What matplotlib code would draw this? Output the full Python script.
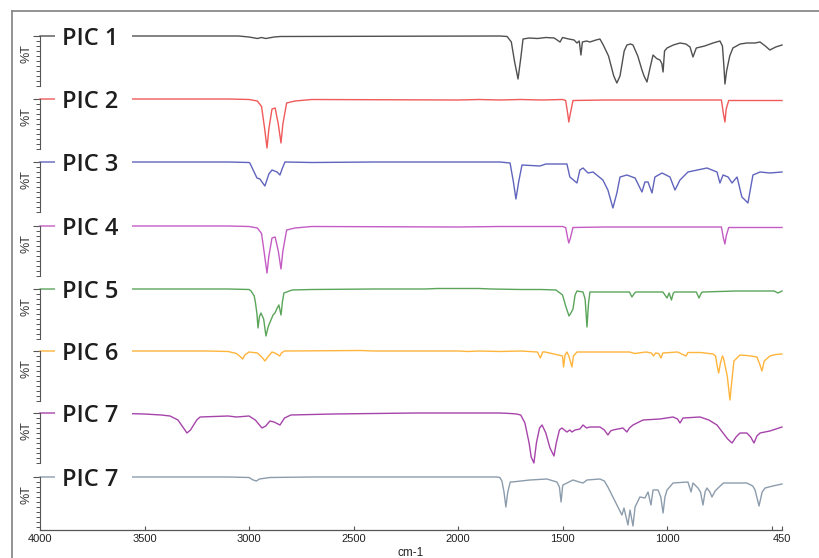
import matplotlib
matplotlib.use('Agg')
import matplotlib.pyplot as plt
from matplotlib.lines import Line2D
from matplotlib.ticker import FixedLocator

# ---------------- data ----------------
labels = ['PIC 1', 'PIC 2', 'PIC 3', 'PIC 4', 'PIC 5', 'PIC 6', 'PIC 7', 'PIC 7']
colors = ['#505050', '#f05a5a', '#6064bc', '#c45cc4', '#5aa55a', '#ffb43c', '#a644aa', '#8c9cac']

pic1_wn = [4000, 3050, 3000, 2960, 2940, 2920, 2880, 2850, 1800, 1765, 1745, 1730, 1713, 1700, 1689,
           1660, 1620, 1580, 1540, 1512, 1500, 1470, 1445, 1431, 1420, 1412, 1405, 1385, 1369, 1340,
           1321, 1305, 1280, 1255, 1240, 1225, 1205, 1192, 1175, 1163, 1140, 1120, 1110, 1096, 1082,
           1067, 1050, 1034, 1025, 1019, 1012, 1000, 970, 938, 910, 890, 876, 860, 820, 780, 747,
           735, 728, 723, 715, 700, 685, 650, 618, 580, 555, 530, 508, 480, 450]
pic1_t = [100, 100, 98, 95, 97, 95, 98, 99, 100, 99, 88, 50, 14, 55, 94,
          96, 95, 97, 96, 88, 97, 94, 92, 86, 90, 62, 88, 90, 88, 92,
          94, 82, 60, 20, 6, 20, 70, 82, 84, 82, 60, 32, 20, 8, 35,
          62, 55, 52, 45, 28, 70, 76, 82, 86, 84, 78, 58, 76, 80, 86, 90,
          80, 40, 4, 30, 60, 76, 84, 86, 86, 88, 80, 72, 78, 82]

pic2_wn = [4000, 3100, 3000, 2960, 2940, 2925, 2914, 2905, 2890, 2875, 2860, 2847, 2838, 2820, 2780,
           2700, 2000, 1900, 1800, 1700, 1600, 1500, 1485, 1475, 1470, 1463, 1450, 1300, 1000, 740,
           730, 723, 717, 705, 450]
pic2_t = [100, 100, 99, 96, 85, 40, 2, 40, 80, 82, 50, 12, 50, 92, 96,
          99, 98, 99, 98, 99, 98, 99, 97, 70, 54, 70, 97, 98, 98, 98,
          70, 54, 80, 97, 97]

pic3_wn = [4000, 3100, 3000, 2996, 2962, 2948, 2924, 2905, 2890, 2866, 2852, 2840, 2828, 2700, 2400,
           1800, 1751, 1735, 1723, 1710, 1694, 1608, 1580, 1479, 1465, 1431, 1417, 1402, 1378, 1354,
           1307, 1283, 1259, 1240, 1225, 1192, 1153, 1120, 1106, 1091, 1072, 1058, 1024, 986, 962,
           938, 900, 809, 761, 747, 732, 708, 689, 665, 642, 627, 613, 589, 555, 508, 450]
pic3_t = [100, 100, 99, 98, 68, 66, 52, 76, 84, 80, 74, 88, 100, 99, 100,
          100, 98, 60, 26, 60, 94, 92, 96, 96, 70, 58, 84, 88, 78, 80,
          64, 44, 8, 38, 70, 74, 68, 40, 60, 60, 38, 70, 78, 70, 44,
          64, 80, 88, 80, 58, 74, 70, 58, 70, 30, 24, 18, 74, 80, 78, 80]

pic4_wn = [4000, 3100, 3000, 2960, 2940, 2925, 2914, 2905, 2890, 2875, 2860, 2847, 2838, 2820, 2780,
           2700, 2000, 1800, 1500, 1485, 1475, 1470, 1463, 1450, 1300, 1000, 740, 730, 723, 717,
           705, 450]
pic4_t = [100, 100, 99, 96, 85, 40, 6, 40, 76, 78, 50, 14, 50, 92, 96,
          99, 98, 99, 99, 97, 75, 66, 75, 97, 98, 98, 98, 75, 64, 80,
          97, 97]

pic5_wn = [4000, 3100, 3000, 2990, 2975, 2969, 2962, 2957, 2950, 2943, 2930, 2919, 2908, 2895, 2885,
           2876, 2865, 2857, 2852, 2847, 2840, 2833, 2794, 2700, 2400, 2157, 2100, 2000, 1900, 1840,
           1700, 1600, 1531, 1500, 1485, 1469, 1460, 1450, 1440, 1431, 1402, 1392, 1383, 1376, 1369,
           1292, 1180, 1168, 1155, 1149, 1020, 1000, 990, 979, 970, 964, 860, 847, 835, 828,
           670, 488, 469, 450]
pic5_t = [100, 100, 99, 96, 86, 72, 50, 22, 45, 52, 40, 6, 25, 38, 48,
          52, 62, 68, 58, 48, 75, 92, 98, 99, 100, 100, 101, 101, 101, 100,
          99, 99, 98, 88, 66, 46, 52, 60, 88, 96, 94, 80, 24, 70, 94,
          94, 94, 84, 92, 94, 94, 82, 92, 78, 92, 94, 94, 82, 93, 94,
          96, 96, 92, 96]

pic6_wn = [4000, 3200, 3100, 3080, 3060, 3040, 3030, 3020, 3000, 2960, 2935, 2924, 2910, 2890, 2876,
           2860, 2853, 2845, 2830, 2466, 2400, 2000, 1950, 1900, 1800, 1700, 1620, 1606, 1595, 1583,
           1500, 1495, 1488, 1479, 1470, 1455, 1448, 1431, 1369, 1180, 1155, 1100, 1075, 1065, 1055,
           1040, 1029, 1020, 950, 909, 900, 840, 780, 768, 760, 753, 745, 735, 730, 712,
           699, 690, 680, 651, 620, 599, 570, 555, 546, 535, 508, 480, 450]
pic6_t = [100, 100, 99, 97, 95, 88, 84, 92, 98, 96, 86, 80, 88, 98, 96,
          92, 90, 96, 100, 101, 100, 100, 99, 100, 99, 100, 98, 86, 98, 98,
          90, 68, 92, 98, 90, 68, 90, 98, 98, 98, 95, 98, 96, 90, 96,
          95, 86, 96, 98, 90, 97, 97, 94, 90, 70, 56, 75, 90, 86, 50,
          2, 40, 80, 92, 91, 90, 88, 72, 60, 80, 90, 93, 94]

pic7_wn = [4000, 3700, 3500, 3420, 3378, 3340, 3310, 3297, 3280, 3250, 3234, 3100, 3060, 3000, 2970,
           2938, 2920, 2900, 2880, 2852, 2830, 2800, 2600, 2200, 2000, 1800, 1750, 1720, 1700, 1680,
           1660, 1650, 1637, 1625, 1610, 1598, 1580, 1560, 1541, 1530, 1515, 1503, 1479, 1465, 1455,
           1440, 1417, 1402, 1385, 1369, 1321, 1300, 1283, 1270, 1259, 1211, 1192, 1180, 1163, 1115,
           1034, 971, 950, 938, 924, 842, 800, 761, 732, 710, 689, 670, 651, 618, 600,
           584, 570, 555, 508, 450]
pic7_t = [100, 100, 98, 96, 94, 86, 68, 60, 66, 86, 92, 94, 92, 94, 86,
          70, 74, 84, 82, 76, 90, 96, 98, 100, 100, 100, 99, 98, 96, 80,
          40, 12, 0, 40, 70, 76, 60, 30, 14, 40, 66, 70, 62, 66, 62,
          66, 68, 76, 70, 72, 72, 66, 56, 64, 66, 70, 62, 70, 76, 86,
          88, 92, 88, 80, 90, 92, 86, 76, 60, 48, 40, 52, 60, 60, 52,
          40, 54, 60, 64, 72]

pic8_wn = [4000, 3100, 3000, 2980, 2965, 2950, 2900, 2700, 2000, 1816, 1800, 1790, 1780, 1771, 1762,
           1750, 1742, 1656, 1575, 1527, 1515, 1507, 1500, 1498, 1450, 1420, 1402, 1383, 1321, 1300,
           1283, 1259, 1235, 1216, 1206, 1187, 1177, 1163, 1153, 1130, 1106, 1091, 1077, 1067, 1043,
           1030, 1019, 1010, 1000, 971, 900, 885, 876, 852, 840, 828, 818, 809, 795, 785,
           770, 756, 730, 699, 618, 590, 579, 560, 545, 531, 494, 450]
pic8_t = [100, 100, 99, 94, 92, 96, 99, 100, 100, 100, 99, 92, 70, 40, 70,
          90, 90, 94, 96, 90, 80, 50, 80, 84, 94, 90, 88, 94, 96, 92,
          80, 60, 40, 24, 38, 4, 34, 2, 40, 60, 58, 70, 44, 74, 74,
          60, 28, 60, 74, 88, 90, 70, 88, 78, 70, 44, 70, 78, 70, 60,
          72, 78, 88, 88, 88, 82, 74, 42, 70, 78, 82, 86]

series_wn = [pic1_wn, pic2_wn, pic3_wn, pic4_wn, pic5_wn, pic6_wn, pic7_wn, pic8_wn]
series_t = [pic1_t, pic2_t, pic3_t, pic4_t, pic5_t, pic6_t, pic7_t, pic8_t]

xtick_vals = [4000, 3500, 3000, 2500, 2000, 1500, 1000, 500, 450]
xtick_labels = ['4000', '3500', '3000', '2500', '2000', '1500', '1000', '', '450']

# ---------------- layout ----------------
W, H = 819, 558
fig = plt.figure(figsize=(W / 100, H / 100), dpi=100)
fig.patch.set_facecolor('white')

X0, X1 = 40, 782
AXIS_Y = 530
bases = [36, 99, 162, 226, 289, 351, 413, 477]
PH = 50  # px for 100 %T units

# outer frame lines
fig.add_artist(Line2D([12 / W, 12 / W], [0, 1 - 11 / H], color='#8a8a8a', lw=1.3,
                      transform=fig.transFigure))
fig.add_artist(Line2D([12 / W, 1], [1 - 11 / H, 1 - 11 / H], color='#8a8a8a', lw=1.3,
                      transform=fig.transFigure))

for i in range(8):
    top = bases[i]
    bottom = top + PH if i < 7 else AXIS_Y
    ax = fig.add_axes([X0 / W, 1 - bottom / H, (X1 - X0) / W, (bottom - top) / H])
    ax.patch.set_visible(False)
    ax.set_xlim(4000, 450)
    ax.set_ylim(100 - (bottom - top) * 100 / PH, 100)
    for s in ['top', 'right', 'bottom']:
        ax.spines[s].set_visible(False)
    ax.spines['left'].set_color('#555555')
    ax.spines['left'].set_linewidth(0.8)
    ax.set_xticks([])
    ax.yaxis.set_major_locator(FixedLocator([100]))
    ax.yaxis.set_minor_locator(FixedLocator([0, 10, 20, 30, 40, 50, 60, 70, 80, 90]))
    ax.tick_params(axis='y', which='major', length=5, width=0.8, color='#555555', labelleft=False)
    ax.tick_params(axis='y', which='minor', length=3, width=0.7, color='#555555')

    ax.plot(series_wn[i], series_t[i], color=colors[i], lw=1.0, clip_on=False, zorder=2)

    span = ax.axvspan(3928, 3562, ymin=0.55, ymax=1.25, color='white', zorder=3, lw=0)
    span.set_clip_on(False)
    ax.text(3895, 100, labels[i], fontsize=17, family='Open Sans', fontweight='semibold',
            color='#1e1e1e', ha='left', va='center_baseline', zorder=4, clip_on=False)

    fig.text(27 / W, 1 - (top + 18) / H, '%T', rotation=90, fontsize=9,
             family='Liberation Sans', color='#333333', ha='center', va='center')

# bottom x axis
axx = fig.add_axes([X0 / W, 1 - AXIS_Y / H, (X1 - X0) / W, 0.0001])
axx.patch.set_visible(False)
axx.set_xlim(4000, 450)
axx.set_yticks([])
for s in ['top', 'right', 'left']:
    axx.spines[s].set_visible(False)
axx.spines['bottom'].set_color('#555555')
axx.spines['bottom'].set_linewidth(0.9)
axx.set_xticks(xtick_vals)
axx.set_xticklabels(xtick_labels, fontsize=8, family='Liberation Sans', color='#222222')
axx.tick_params(axis='x', direction='in', length=3, width=0.8, color='#555555', pad=3)
axx.set_xlabel('cm-1', fontsize=8.5, family='Liberation Sans', color='#222222', labelpad=2)

fig.savefig('out.png', dpi=100, facecolor='white')
